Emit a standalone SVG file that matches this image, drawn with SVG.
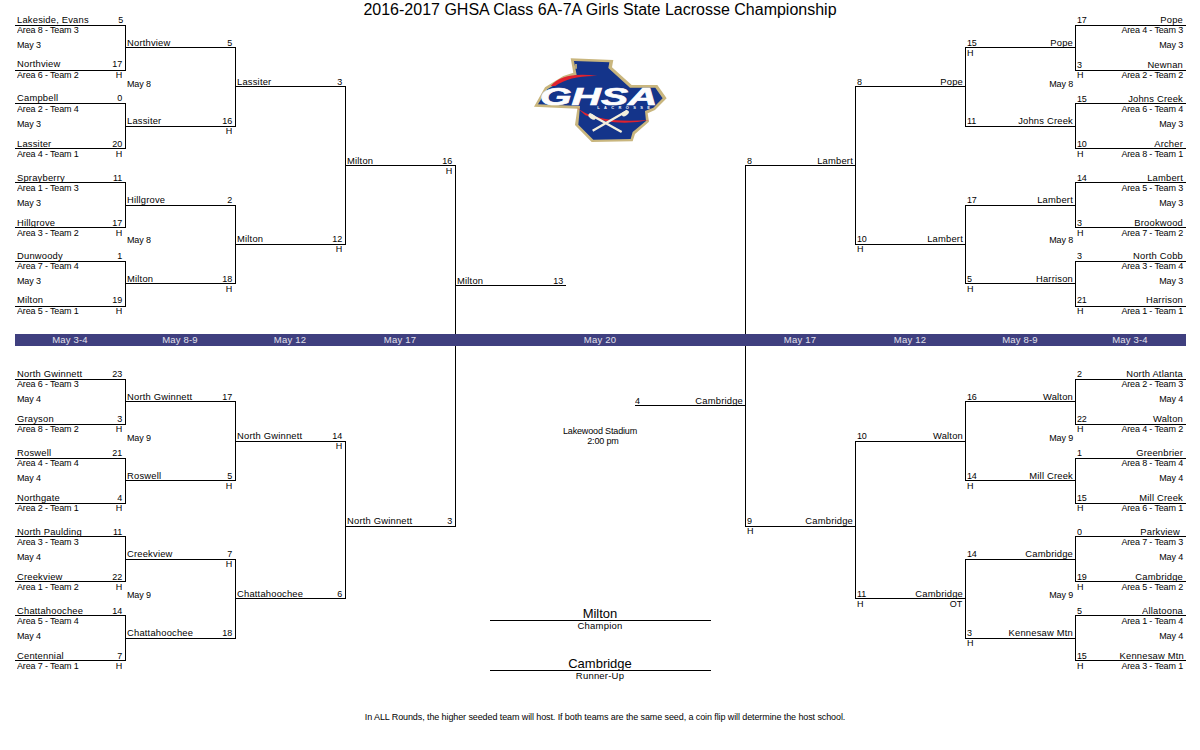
<svg xmlns="http://www.w3.org/2000/svg" width="1200" height="750" viewBox="0 0 1200 750">
<style>
text{font-family:"Liberation Sans",Arial,sans-serif;font-size:9px;letter-spacing:-.15px;fill:#000;opacity:.99}
.n{font-size:9.400px;letter-spacing:.2px}
.e{text-anchor:end}.m{text-anchor:middle}
.c{fill:none;stroke:#000;stroke-width:1;shape-rendering:crispEdges}
.d{font-size:9.500px;letter-spacing:.2px;fill:#e4e4ee;text-anchor:middle}
.b{font-size:13px;letter-spacing:0;text-anchor:middle}
.g{font-size:9.500px;letter-spacing:.2px;text-anchor:middle}
</style>
<rect width="1200" height="750" fill="#fff"/>
<text x="600" y="15" class="m" style="font-size:16px;letter-spacing:0">2016-2017 GHSA Class 6A-7A Girls State Lacrosse Championship</text>
<g id="connectors">
<path class="c" d="M15 25.500H125.500V70.500H15M15 103.500H125.500V148.500H15M15 182.500H125.500V227.500H15M15 261.500H125.500V306.500H15M15 379.500H125.500V424.500H15M15 458.500H125.500V503.500H15M15 536.500H125.500V581.500H15M15 615.500H125.500V660.500H15"/>
<path class="c" d="M125.500 47.500H235.500V126.500H125.500M125.500 205.500H235.500V283.500H125.500M125.500 401.500H235.500V480.500H125.500M125.500 559.500H235.500V638.500H125.500"/>
<path class="c" d="M235.500 86.500H345.500V244.500H235.500M235.500 441.500H345.500V598.500H235.500"/>
<path class="c" d="M345.500 165.500H455.500V526.500H345.500M455.500 285.500H566"/>
<path class="c" d="M1186 25.500H1075.500V70.500H1186M1186 103.500H1075.500V148.500H1186M1186 182.500H1075.500V227.500H1186M1186 261.500H1075.500V306.500H1186M1186 379.500H1075.500V424.500H1186M1186 458.500H1075.500V503.500H1186M1186 536.500H1075.500V581.500H1186M1186 615.500H1075.500V660.500H1186"/>
<path class="c" d="M1075.500 47.500H965.500V126.500H1075.500M1075.500 205.500H965.500V283.500H1075.500M1075.500 401.500H965.500V480.500H1075.500M1075.500 559.500H965.500V638.500H1075.500"/>
<path class="c" d="M965.500 86.500H855.500V244.500H965.500M965.500 441.500H855.500V598.500H965.500"/>
<path class="c" d="M855.500 165.500H745.500V526.500H855.500M745.500 405.500H635"/>
<path class="c" d="M490 620.500H711M490 670.500H711"/>
</g>
<g id="date-bar">
<rect x="15" y="334" width="1171" height="12" fill="#3f3f7f"/>
<text class="d" x="70" y="343">May 3-4</text><text class="d" x="180" y="343">May 8-9</text><text class="d" x="290" y="343">May 12</text><text class="d" x="400" y="343">May 17</text><text class="d" x="600" y="343">May 20</text><text class="d" x="800" y="343">May 17</text><text class="d" x="910" y="343">May 12</text><text class="d" x="1020" y="343">May 8-9</text><text class="d" x="1130" y="343">May 3-4</text>
</g>
<g id="logo" transform="translate(520 50) scale(.3333)">
<path d="M152 25L280 30L276 52L335 105L412 105L440 145L405 180L383 190L387 215L345 252L338 274L215 276L165 225L172 176L42 170L75 112L130 78L160 68Z" fill="#c9b67e"/>
<path d="M162 33L268 37L265 54L330 113L406 113L428 145L400 173L375 183L378 213L338 246L332 267L220 269L175 224L180 168L54 163L82 118L135 86L170 75Z" fill="#14348a"/>
<path d="M168 42V56" stroke="#c9b67e" stroke-width="5" fill="none"/>
<path d="M92 108Q130 64 232 78Q150 76 106 108Z" fill="#e0222e"/>
<path d="M168 170Q225 222 388 210Q290 232 196 196Z" fill="#e0222e"/>
<path d="M208 192L305 246M322 182L218 242" stroke="#f4efdc" stroke-width="7" fill="none"/>
<ellipse cx="216" cy="200" rx="12" ry="7" fill="#f4efdc" transform="rotate(35 216 200)"/>
<ellipse cx="316" cy="190" rx="12" ry="7" fill="#f4efdc" transform="rotate(-35 316 190)"/>
<text x="60" y="166" textLength="352" lengthAdjust="spacingAndGlyphs" style="font-size:72px;letter-spacing:0;font-weight:bold;font-style:italic;fill:#fff;stroke:#fff;stroke-width:2px">GHSA</text>
<text x="232" y="178" textLength="158" style="font-size:12px;letter-spacing:0;font-weight:bold;fill:#fff">LACROSSE</text>
</g>
<g id="left-round-1">
<g id="l1"><text class="n" x="17" y="23">Lakeside, Evans</text><text x="123" y="23" class="e">5</text><text x="17" y="33">Area 8 - Team 3</text></g>
<text x="17" y="48">May 3</text>
<g id="l2"><text class="n" x="17" y="67">Northview</text><text x="122" y="67" class="e">17</text><text x="17" y="78">Area 6 - Team 2</text><text x="122" y="78" class="e">H</text></g>
<g id="l3"><text class="n" x="17" y="101">Campbell</text><text x="122" y="101" class="e">0</text><text x="17" y="112">Area 2 - Team 4</text></g>
<text x="17" y="127">May 3</text>
<g id="l4"><text class="n" x="17" y="147">Lassiter</text><text x="122" y="147" class="e">20</text><text x="17" y="157">Area 4 - Team 1</text><text x="122" y="157" class="e">H</text></g>
<g id="l5"><text class="n" x="17" y="181">Sprayberry</text><text x="122" y="181" class="e">11</text><text x="17" y="191">Area 1 - Team 3</text></g>
<text x="17" y="206">May 3</text>
<g id="l6"><text class="n" x="17" y="226">Hillgrove</text><text x="122" y="226" class="e">17</text><text x="17" y="236">Area 3 - Team 2</text><text x="122" y="236" class="e">H</text></g>
<g id="l7"><text class="n" x="17" y="259">Dunwoody</text><text x="122" y="259" class="e">1</text><text x="17" y="269">Area 7 - Team 4</text></g>
<text x="17" y="284">May 3</text>
<g id="l8"><text class="n" x="17" y="303">Milton</text><text x="122" y="303" class="e">19</text><text x="17" y="314">Area 5 - Team 1</text><text x="122" y="314" class="e">H</text></g>
<g id="l9"><text class="n" x="17" y="377">North Gwinnett</text><text x="122" y="377" class="e">23</text><text x="17" y="387">Area 6 - Team 3</text></g>
<text x="17" y="402">May 4</text>
<g id="l10"><text class="n" x="17" y="422">Grayson</text><text x="122" y="422" class="e">3</text><text x="17" y="432">Area 8 - Team 2</text><text x="122" y="432" class="e">H</text></g>
<g id="l11"><text class="n" x="17" y="456">Roswell</text><text x="122" y="456" class="e">21</text><text x="17" y="466">Area 4 - Team 4</text></g>
<text x="17" y="481">May 4</text>
<g id="l12"><text class="n" x="17" y="501">Northgate</text><text x="122" y="501" class="e">4</text><text x="17" y="511">Area 2 - Team 1</text><text x="122" y="511" class="e">H</text></g>
<g id="l13"><text class="n" x="17" y="535">North Paulding</text><text x="122" y="535" class="e">11</text><text x="17" y="545">Area 3 - Team 3</text></g>
<text x="17" y="560">May 4</text>
<g id="l14"><text class="n" x="17" y="580">Creekview</text><text x="122" y="580" class="e">22</text><text x="17" y="590">Area 1 - Team 2</text><text x="122" y="590" class="e">H</text></g>
<g id="l15"><text class="n" x="17" y="614">Chattahoochee</text><text x="122" y="614" class="e">14</text><text x="17" y="624">Area 5 - Team 4</text></g>
<text x="17" y="639">May 4</text>
<g id="l16"><text class="n" x="17" y="659">Centennial</text><text x="122" y="659" class="e">7</text><text x="17" y="669">Area 7 - Team 1</text><text x="122" y="669" class="e">H</text></g>
</g>
<g id="left-round-2">
<g id="l2a"><text class="n" x="127" y="46">Northview</text><text x="232" y="46" class="e">5</text></g>
<text x="127" y="87">May 8</text>
<g id="l2b"><text class="n" x="127" y="124">Lassiter</text><text x="232" y="124" class="e">16</text><text x="232" y="134" class="e">H</text></g>
<g id="l2c"><text class="n" x="127" y="203">Hillgrove</text><text x="232" y="203" class="e">2</text></g>
<text x="127" y="243">May 8</text>
<g id="l2d"><text class="n" x="127" y="282">Milton</text><text x="232" y="282" class="e">18</text><text x="232" y="292" class="e">H</text></g>
<g id="l2e"><text class="n" x="127" y="400">North Gwinnett</text><text x="232" y="400" class="e">17</text></g>
<text x="127" y="441">May 9</text>
<g id="l2f"><text class="n" x="127" y="479">Roswell</text><text x="232" y="479" class="e">5</text><text x="232" y="489" class="e">H</text></g>
<g id="l2g"><text class="n" x="127" y="557">Creekview</text><text x="232" y="557" class="e">7</text><text x="232" y="567" class="e">H</text></g>
<text x="127" y="598">May 9</text>
<g id="l2h"><text class="n" x="127" y="636">Chattahoochee</text><text x="232" y="636" class="e">18</text></g>
</g>
<g id="left-round-3">
<g id="l3a"><text class="n" x="237" y="85">Lassiter</text><text x="342" y="85" class="e">3</text></g>
<g id="l3b"><text class="n" x="237" y="242">Milton</text><text x="342" y="242" class="e">12</text><text x="342" y="252" class="e">H</text></g>
<g id="l3c"><text class="n" x="237" y="439">North Gwinnett</text><text x="342" y="439" class="e">14</text><text x="342" y="449" class="e">H</text></g>
<g id="l3d"><text class="n" x="237" y="597">Chattahoochee</text><text x="342" y="597" class="e">6</text></g>
</g>
<g id="left-round-4">
<g id="l4a"><text class="n" x="347" y="164">Milton</text><text x="452" y="164" class="e">16</text><text x="452" y="174" class="e">H</text></g>
<g id="l4b"><text class="n" x="347" y="524">North Gwinnett</text><text x="452" y="524" class="e">3</text></g>
</g>
<g id="finalist-left"><text class="n" x="457" y="284">Milton</text><text x="563" y="284" class="e">13</text></g>
<g id="finalist-right"><text class="n e" x="743" y="404">Cambridge</text><text x="635" y="404">4</text></g>
<g id="right-round-1">
<g id="r1"><text class="n e" x="1183" y="23">Pope</text><text x="1077" y="23">17</text><text x="1183" y="33" class="e">Area 4 - Team 3</text></g>
<text x="1183" y="48" class="e">May 3</text>
<g id="r2"><text class="n e" x="1183" y="68">Newnan</text><text x="1077" y="68">3</text><text x="1183" y="78" class="e">Area 2 - Team 2</text><text x="1077" y="78">H</text></g>
<g id="r3"><text class="n e" x="1183" y="102">Johns Creek</text><text x="1077" y="102">15</text><text x="1183" y="112" class="e">Area 6 - Team 4</text></g>
<text x="1183" y="127" class="e">May 3</text>
<g id="r4"><text class="n e" x="1183" y="147">Archer</text><text x="1077" y="147">10</text><text x="1183" y="157" class="e">Area 8 - Team 1</text><text x="1077" y="157">H</text></g>
<g id="r5"><text class="n e" x="1183" y="181">Lambert</text><text x="1077" y="181">14</text><text x="1183" y="191" class="e">Area 5 - Team 3</text></g>
<text x="1183" y="206" class="e">May 3</text>
<g id="r6"><text class="n e" x="1183" y="226">Brookwood</text><text x="1077" y="226">3</text><text x="1183" y="236" class="e">Area 7 - Team 2</text><text x="1077" y="236">H</text></g>
<g id="r7"><text class="n e" x="1183" y="259">North Cobb</text><text x="1077" y="259">3</text><text x="1183" y="269" class="e">Area 3 - Team 4</text></g>
<text x="1183" y="284" class="e">May 3</text>
<g id="r8"><text class="n e" x="1183" y="303">Harrison</text><text x="1077" y="303">21</text><text x="1183" y="314" class="e">Area 1 - Team 1</text><text x="1077" y="314">H</text></g>
<g id="r9"><text class="n e" x="1183" y="377">North Atlanta</text><text x="1077" y="377">2</text><text x="1183" y="387" class="e">Area 2 - Team 3</text></g>
<text x="1183" y="402" class="e">May 4</text>
<g id="r10"><text class="n e" x="1183" y="422">Walton</text><text x="1077" y="422">22</text><text x="1183" y="432" class="e">Area 4 - Team 2</text><text x="1077" y="432">H</text></g>
<g id="r11"><text class="n e" x="1183" y="456">Greenbrier</text><text x="1077" y="456">1</text><text x="1183" y="466" class="e">Area 8 - Team 4</text></g>
<text x="1183" y="481" class="e">May 4</text>
<g id="r12"><text class="n e" x="1183" y="501">Mill Creek</text><text x="1077" y="501">15</text><text x="1183" y="511" class="e">Area 6 - Team 1</text><text x="1077" y="511">H</text></g>
<g id="r13"><text class="n e" x="1180" y="535">Parkview</text><text x="1077" y="535">0</text><text x="1183" y="545" class="e">Area 7 - Team 3</text></g>
<text x="1183" y="560" class="e">May 4</text>
<g id="r14"><text class="n e" x="1183" y="580">Cambridge</text><text x="1077" y="580">19</text><text x="1183" y="590" class="e">Area 5 - Team 2</text><text x="1077" y="590">H</text></g>
<g id="r15"><text class="n e" x="1183" y="614">Allatoona</text><text x="1077" y="614">5</text><text x="1183" y="624" class="e">Area 1 - Team 4</text></g>
<text x="1183" y="639" class="e">May 4</text>
<g id="r16"><text class="n e" x="1184" y="659">Kennesaw Mtn</text><text x="1077" y="659">15</text><text x="1183" y="669" class="e">Area 3 - Team 1</text><text x="1077" y="669">H</text></g>
</g>
<g id="right-round-2">
<g id="r2a"><text class="n e" x="1073" y="46">Pope</text><text x="967" y="46">15</text><text x="967" y="56">H</text></g>
<text x="1073" y="87" class="e">May 8</text>
<g id="r2b"><text class="n e" x="1073" y="124">Johns Creek</text><text x="967" y="124">11</text></g>
<g id="r2c"><text class="n e" x="1073" y="203">Lambert</text><text x="967" y="203">17</text></g>
<text x="1073" y="243" class="e">May 8</text>
<g id="r2d"><text class="n e" x="1073" y="282">Harrison</text><text x="967" y="282">5</text><text x="967" y="292">H</text></g>
<g id="r2e"><text class="n e" x="1073" y="400">Walton</text><text x="967" y="400">16</text></g>
<text x="1073" y="441" class="e">May 9</text>
<g id="r2f"><text class="n e" x="1073" y="479">Mill Creek</text><text x="967" y="479">14</text><text x="967" y="489">H</text></g>
<g id="r2g"><text class="n e" x="1073" y="557">Cambridge</text><text x="967" y="557">14</text></g>
<text x="1073" y="598" class="e">May 9</text>
<g id="r2h"><text class="n e" x="1073" y="636">Kennesaw Mtn</text><text x="967" y="636">3</text><text x="967" y="646">H</text></g>
</g>
<g id="right-round-3">
<g id="r3a"><text class="n e" x="963" y="85">Pope</text><text x="857" y="85">8</text></g>
<g id="r3b"><text class="n e" x="963" y="242">Lambert</text><text x="857" y="242">10</text><text x="857" y="252">H</text></g>
<g id="r3c"><text class="n e" x="963" y="439">Walton</text><text x="857" y="439">10</text></g>
<g id="r3d"><text class="n e" x="963" y="597">Cambridge</text><text x="857" y="597">11</text><text x="857" y="607">H</text><text x="962" y="607" class="e">OT</text></g>
</g>
<g id="right-round-4">
<g id="r4a"><text class="n e" x="853" y="164">Lambert</text><text x="747" y="164">8</text></g>
<g id="r4b"><text class="n e" x="853" y="524">Cambridge</text><text x="747" y="524">9</text><text x="747" y="534">H</text></g>
</g>
<g id="venue"><text x="600" y="434" class="m">Lakewood Stadium</text><text x="603" y="444" class="m">2:00 pm</text></g>
<g id="champion"><text x="600" y="618" class="b">Milton</text><text x="600" y="629" class="g">Champion</text></g>
<g id="runner-up"><text x="600" y="668" class="b">Cambridge</text><text x="600" y="679" class="g">Runner-Up</text></g>
<text x="605" y="720" class="m" style="letter-spacing:-.1px">In ALL Rounds, the higher seeded team will host. If both teams are the same seed, a coin flip will determine the host school.</text>
</svg>
